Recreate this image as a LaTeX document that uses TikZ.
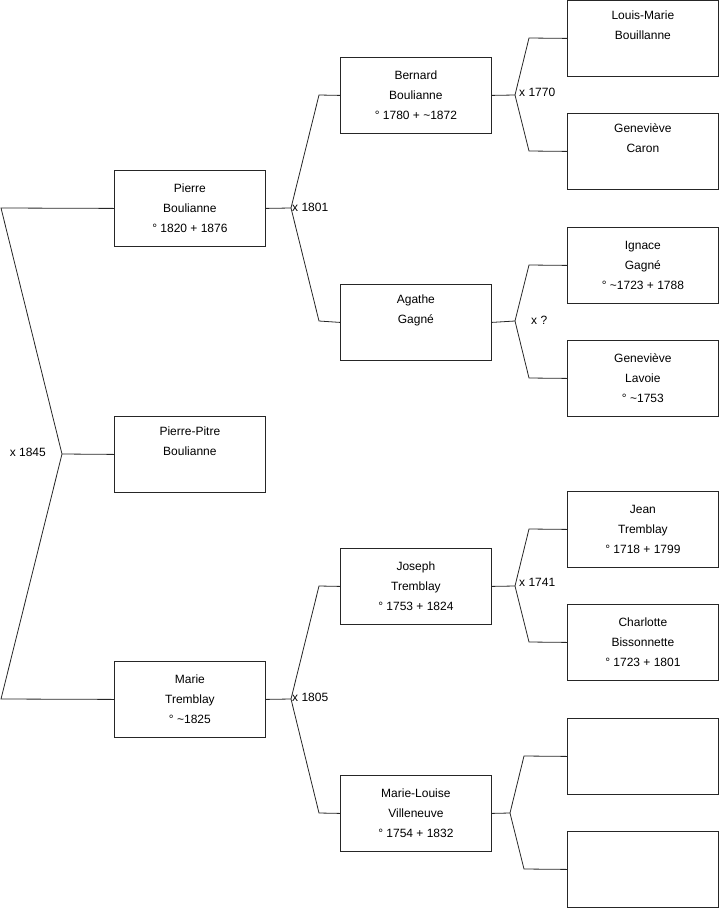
\documentclass[tikz,border=0pt]{standalone}
\usepackage{fontspec}
\setmainfont{Liberation Sans}
\begin{document}
\begin{tikzpicture}[x=1pt,y=-1pt,
  person/.style={draw=black!85, line width=0.8pt, minimum width=151pt, minimum height=76pt, inner sep=0pt, align=center, font=\fontsize{12}{20}\selectfont, anchor=north west},
  conn/.style={draw=black!85, line width=0.8pt},
  lab/.style={font=\fontsize{12}{14}\selectfont, inner sep=0pt}]
\useasboundingbox (0,0) rectangle (719,908);
% column 1
\node[person] (pierre) at (114,170) {Pierre\\Boulianne\\° 1820 + 1876};
\node[person] (pp) at (114,416) {Pierre-Pitre\\Boulianne\\\strut};
\node[person] (marie) at (114,661) {Marie\\Tremblay\\° \textasciitilde1825};
% column 2
\node[person] (bernard) at (340,57) {Bernard\\Boulianne\\° 1780 + \textasciitilde1872};
\node[person] (agathe) at (340,284) {Agathe\\Gagné\\\strut};
\node[person] (joseph) at (340,548) {Joseph\\Tremblay\\° 1753 + 1824};
\node[person] (ml) at (340,775) {Marie-Louise\\Villeneuve\\° 1754 + 1832};
% column 3
\node[person] (lm) at (567,0) {Louis-Marie\\Bouillanne\\\strut};
\node[person] (gc) at (567,113) {Geneviève\\Caron\\\strut};
\node[person] (ig) at (567,227) {Ignace\\Gagné\\° \textasciitilde1723 + 1788};
\node[person] (gl) at (567,340) {Geneviève\\Lavoie\\° \textasciitilde1753};
\node[person] (jt) at (567,491) {Jean\\Tremblay\\° 1718 + 1799};
\node[person] (cb) at (567,604) {Charlotte\\Bissonnette\\° 1723 + 1801};
\node[person] (e1) at (567,718) {};
\node[person] (e2) at (567,831) {};
% left fork
\coordinate (lt) at (1,208);
\coordinate (lb) at (1,699);
\coordinate (lj) at (62,454);
\draw[conn] (pierre.west) -- (lt) -- (lj) -- (lb) -- (marie.west);
\draw[conn] (lj) -- (pp.west);
\node[lab, anchor=east] (l1845) at (46,452) {x 1845};
% Pierre fork
\coordinate (pj) at (291,208);
\draw[conn] (pierre.east) -- (pj) -- (319,95) -- (bernard.west);
\draw[conn] (pj) -- (319,321) -- (agathe.west);
\node[lab, anchor=west] (l1801) at (292,207) {x 1801};
% Marie fork
\coordinate (mj) at (291,699);
\draw[conn] (marie.east) -- (mj) -- (319,586) -- (joseph.west);
\draw[conn] (mj) -- (319,813) -- (ml.west);
\node[lab, anchor=west] (l1805) at (292,697) {x 1805};
% Bernard fork
\coordinate (bj) at (515,95);
\draw[conn] (bernard.east) -- (bj) -- (529,38) -- (lm.west);
\draw[conn] (bj) -- (529,151) -- (gc.west);
\node[lab, anchor=west] (l1770) at (519,92) {x 1770};
% Agathe fork
\coordinate (aj) at (515,321);
\draw[conn] (agathe.east) -- (aj) -- (529,265) -- (ig.west);
\draw[conn] (aj) -- (529,378) -- (gl.west);
\node[lab, anchor=west] (lq) at (531,320) {x ?};
% Joseph fork
\coordinate (jj) at (515,586);
\draw[conn] (joseph.east) -- (jj) -- (529,529) -- (jt.west);
\draw[conn] (jj) -- (529,642) -- (cb.west);
\node[lab, anchor=west] (l1741) at (519,582) {x 1741};
% Marie-Louise fork
\coordinate (mlj) at (510,813);
\draw[conn] (ml.east) -- (mlj) -- (524,756) -- (e1.west);
\draw[conn] (mlj) -- (524,869) -- (e2.west);
\end{tikzpicture}
\end{document}
